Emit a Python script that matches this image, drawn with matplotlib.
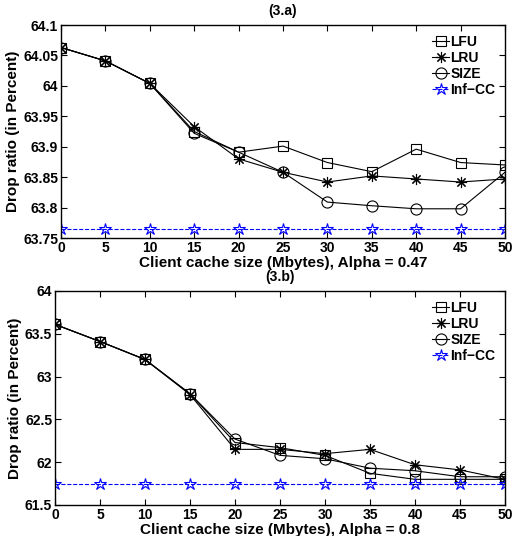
import matplotlib
matplotlib.use('Agg')
import matplotlib.pyplot as plt

plt.rcParams['font.family'] = ['Liberation Sans', 'DejaVu Sans']
plt.rcParams['font.weight'] = 'bold'

# cache sizes (Mbytes)
cacheSize = [0, 5, 10, 15, 20, 25, 30, 35, 40, 45, 50]

# (3.a) alpha = 0.47
lfuA = [64.063, 64.041, 64.004, 63.925, 63.891, 63.901, 63.874, 63.859, 63.896, 63.874, 63.870]
lruA = [64.063, 64.041, 64.004, 63.933, 63.880, 63.858, 63.842, 63.852, 63.847, 63.842, 63.847]
sizeA = [64.063, 64.041, 64.004, 63.922, 63.891, 63.858, 63.809, 63.803, 63.798, 63.798, 63.858]
infA = [63.765] * 11

# (3.b) alpha = 0.8
lfuB = [63.61, 63.41, 63.20, 62.80, 62.23, 62.17, 62.08, 61.87, 61.80, 61.80, 61.80]
lruB = [63.61, 63.41, 63.20, 62.79, 62.15, 62.15, 62.10, 62.15, 61.97, 61.91, 61.80]
sizeB = [63.61, 63.41, 63.20, 62.80, 62.27, 62.08, 62.04, 61.93, 61.90, 61.83, 61.83]
infB = [61.74] * 11

fig = plt.figure(figsize=(5.18, 5.36), dpi=100)
W, H = 518.0, 536.0
axA = fig.add_axes([61 / W, 1 - 238 / H, (505 - 61) / W, (238 - 25) / H])
axB = fig.add_axes([55 / W, 1 - 505 / H, (505 - 55) / W, (505 - 291) / H])

asterisk = (8, 2, 0)

def drawPanel(ax, lfu, lru, size, inf, title, xlab, ylim, yticks, yticklabels):
    ax.plot(cacheSize, lfu, 'k-', marker='s', mfc='none', mec='k', ms=7, mew=0.8, lw=0.8, label='LFU')
    ax.plot(cacheSize, lru, 'k-', marker=asterisk, mfc='none', mec='k', ms=8, mew=0.8, lw=0.8, label='LRU')
    ax.plot(cacheSize, size, 'k-', marker='o', mfc='none', mec='k', ms=8, mew=0.8, lw=0.8, label='SIZE')
    ax.plot(cacheSize, inf, color='b', ls='--', lw=0.8, marker='*', mfc='none', mec='b', ms=9, mew=0.8,
            label='Inf\u2212CC')
    ax.set_xlim(0, 50)
    ax.set_ylim(*ylim)
    ax.set_xticks(cacheSize)
    ax.set_yticks(yticks)
    ax.set_yticklabels(yticklabels)
    ax.tick_params(direction='in', top=True, right=True, labelsize=10, length=4, pad=2)
    for lab in ax.get_xticklabels() + ax.get_yticklabels():
        lab.set_fontweight('bold')
    for s in ax.spines.values():
        s.set_linewidth(1.0)
    ax.set_title(title, fontsize=10, fontweight='bold', pad=7)
    ax.set_xlabel(xlab, fontsize=11, fontweight='bold', labelpad=1)
    ax.set_ylabel('Drop ratio (in Percent)', fontsize=11, fontweight='bold', labelpad=2)
    leg = ax.legend(loc='upper right', frameon=False, fontsize=10, handlelength=1.2,
                    handletextpad=0.1, borderaxespad=0.3, labelspacing=0.15)
    for t in leg.get_texts():
        t.set_fontweight('bold')

drawPanel(axA, lfuA, lruA, sizeA, infA, '(3.a)', 'Client cache size (Mbytes), Alpha = 0.47',
          (63.75, 64.1),
          [63.75, 63.8, 63.85, 63.9, 63.95, 64.0, 64.05, 64.1],
          ['63.75', '63.8', '63.85', '63.9', '63.95', '64', '64.05', '64.1'])
drawPanel(axB, lfuB, lruB, sizeB, infB, '(3.b)', 'Client cache size (Mbytes), Alpha = 0.8',
          (61.5, 64.0),
          [61.5, 62.0, 62.5, 63.0, 63.5, 64.0],
          ['61.5', '62', '62.5', '63', '63.5', '64'])

fig.savefig('out.png', dpi=100)
